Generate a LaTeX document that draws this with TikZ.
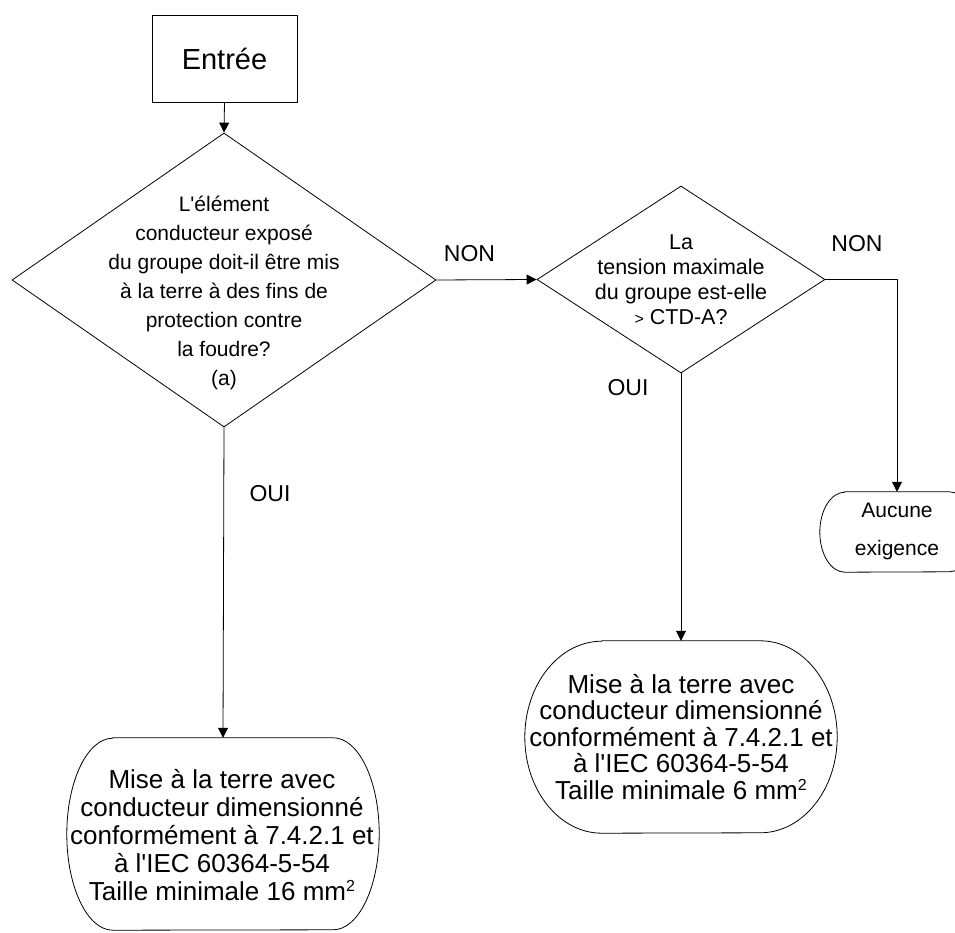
\documentclass[tikz,border=0pt]{standalone}
\usepackage{fontspec}
\setmainfont{Liberation Sans}
\usetikzlibrary{arrows.meta,shapes.geometric}
\newcommand{\sqt}{\textquotesingle}
\newcommand{\sqtwo}{\raisebox{9pt}{\fontsize{16}{16}\selectfont 2}}
\begin{document}
\begin{tikzpicture}[x=1pt,y=1pt,
  line/.style={draw=black, line width=0.8pt},
  arr/.style={line, -{Triangle[length=10pt,width=10pt]}},
  dia/.style={diamond, draw=black, line width=0.8pt, inner sep=0pt},
  frame/.style={rectangle, inner sep=0pt},
  txt/.style={align=center, inner sep=0pt},
  lbl/.style={inner sep=0pt, font=\fontsize{23}{23}\selectfont}
]
\useasboundingbox (0,0) rectangle (955,932);

% start box
\node[rectangle, draw=black, line width=0.8pt, minimum width=145pt, minimum height=87pt,
      font=\fontsize{29}{29}\selectfont] (entree) at (224.5,873.5) {Entrée};

% decision 1
\node[dia, minimum width=424pt, minimum height=294pt] (d1) at (224,652) {};
\node[txt, font=\fontsize{21}{29}\selectfont] (d1t) at (224,639)
  {L\sqt élément\\conducteur exposé\\du groupe doit-il être mis\\à la terre à des fins de\\protection contre\\la foudre?\\(a)};

% decision 2
\node[dia, minimum width=288pt, minimum height=187pt] (d2) at (681,652.5) {};
\node[txt, font=\fontsize{21.5}{25}\selectfont] (d2t) at (681,652)
  {La\\tension maximale\\du groupe est-elle\\{\fontsize{16}{16}\selectfont >} CTD-A?};

% terminal 1 (left)
\node[frame, minimum width=220pt, minimum height=192pt] (t1) at (223,98) {};
\draw[line] (t1.north west) -- (t1.north east)
  arc[start angle=90, end angle=-90, x radius=46pt, y radius=96pt]
  -- (t1.south west)
  arc[start angle=270, end angle=90, x radius=46pt, y radius=96pt] -- cycle;
\node[txt, font=\fontsize{26}{28}\selectfont] (t1t) at (222,97)
  {Mise à la terre avec\\conducteur dimensionné\\conformément à 7.4.2.1 et\\à l\sqt IEC 60364-5-54\\Taille minimale 16 mm\sqtwo};

% terminal 2 (middle)
\node[frame, minimum width=158pt, minimum height=192pt] (t2) at (681,195) {};
\draw[line] (t2.north west) -- (t2.north east)
  arc[start angle=90, end angle=-90, x radius=77pt, y radius=96pt]
  -- (t2.south west)
  arc[start angle=270, end angle=90, x radius=77pt, y radius=96pt] -- cycle;
\node[txt, font=\fontsize{26}{26.5}\selectfont] (t2t) at (681,195)
  {Mise à la terre avec\\conducteur dimensionné\\conformément à 7.4.2.1 et\\à l\sqt IEC 60364-5-54\\Taille minimale 6 mm\sqtwo};

% terminal 3 (right)
\node[frame, minimum width=104pt, minimum height=80pt] (auc) at (897,400) {};
\draw[line] (auc.north west) -- (auc.north east)
  arc[start angle=90, end angle=-90, x radius=25pt, y radius=40pt]
  -- (auc.south west)
  arc[start angle=270, end angle=90, x radius=25pt, y radius=40pt] -- cycle;
\node[txt, font=\fontsize{21}{38}\selectfont] (auct) at (897,401) {Aucune\\exigence};

% connectors
\draw[arr] (entree.south) -- (d1.north);
\draw[arr] (d1.east) -- (d2.west);
\draw[arr] (d1.south) -- (t1.north);
\draw[arr] (d2.south) -- (t2.north);
\draw[arr] (d2.east) -| (auc.north);

% labels
\node[lbl] (non1) at (469.5,678.5) {NON};
\node[lbl] (non2) at (857,688.5) {NON};
\node[lbl] (oui1) at (270,438) {OUI};
\node[lbl] (oui2) at (628,544) {OUI};
\end{tikzpicture}
\end{document}
